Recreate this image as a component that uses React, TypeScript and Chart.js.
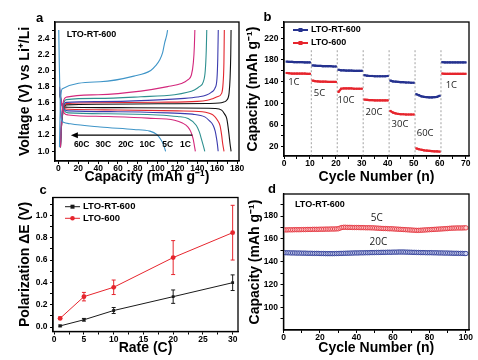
import React, { useEffect, useRef } from "react";
import { Chart, registerables } from "chart.js";
Chart.register(...registerables);

const FONT = '"Liberation Sans", Arial, Helvetica, sans-serif';
const LFONT = '"Open Sans", "Liberation Sans", sans-serif';

// ---------------- Panel a: charge / discharge profiles ----------------
const chg1C_cap = [2, 3, 5, 8, 40, 100, 150, 162, 166, 169, 171, 172, 173, 173.7, 174];
const chg1C_v = [1.05, 1.3, 1.52, 1.575, 1.582, 1.588, 1.592, 1.597, 1.607, 1.625, 1.66, 1.72, 1.9, 2.2, 2.5];
const dis1C_cap = [1, 3, 6, 10, 60, 120, 158, 164.5, 167.5, 169.6, 171, 172, 173, 174];
const dis1C_v = [1.72, 1.6, 1.55, 1.545, 1.54, 1.535, 1.53, 1.51, 1.46, 1.406, 1.3, 1.2, 1.09, 1.0];

const chg5C_cap = [2, 3, 5, 8, 40, 100, 140, 150, 154.3, 160, 164.5, 166, 166.8, 167.2];
const chg5C_v = [1.05, 1.3, 1.52, 1.59, 1.6, 1.607, 1.618, 1.632, 1.646, 1.675, 1.717, 1.85, 2.1, 2.5];
const dis5C_cap = [1, 3, 6, 10, 60, 120, 145, 152, 156, 160, 162.8, 164.5, 165.5, 166.9];
const dis5C_v = [1.74, 1.6, 1.53, 1.52, 1.512, 1.5, 1.49, 1.47, 1.447, 1.39, 1.32, 1.2, 1.1, 1.0];

const chg10C_cap = [2, 3, 5, 8, 40, 90, 127, 140, 149.2, 154, 157.7, 159.8, 160.6, 161.1];
const chg10C_v = [1.05, 1.32, 1.55, 1.605, 1.615, 1.63, 1.655, 1.672, 1.696, 1.73, 1.779, 1.9, 2.15, 2.5];
const dis10C_cap = [1, 3, 6, 10, 60, 110, 135, 147.5, 152, 156, 158, 159.4, 160.3, 161];
const dis10C_v = [1.76, 1.6, 1.52, 1.5, 1.49, 1.475, 1.46, 1.426, 1.38, 1.32, 1.25, 1.157, 1.08, 1.0];

const chg20C_cap = [2, 3, 5, 8, 40, 83, 117, 130, 137, 142, 146, 148, 149, 149.5];
const chg20C_v = [1.05, 1.35, 1.58, 1.64, 1.655, 1.675, 1.7, 1.73, 1.76, 1.8, 1.86, 2.0, 2.25, 2.5];
const dis20C_cap = [1, 3, 6, 10, 50, 100, 120, 130.6, 139, 142, 144, 146, 147.5];
const dis20C_v = [1.78, 1.6, 1.5, 1.475, 1.465, 1.45, 1.43, 1.406, 1.32, 1.24, 1.157, 1.07, 1.0];

const chg30C_cap = [2, 3, 5, 8, 40, 83, 110, 124, 130, 134, 136, 137, 137.5];
const chg30C_v = [1.05, 1.4, 1.62, 1.67, 1.7, 1.745, 1.8, 1.84, 1.88, 1.944, 2.1, 2.3, 2.5];
const dis30C_cap = [1, 3, 6, 10, 50, 90, 117, 125, 130.6, 133.5, 135.7, 137, 138];
const dis30C_v = [1.8, 1.6, 1.47, 1.45, 1.43, 1.41, 1.385, 1.35, 1.3, 1.24, 1.157, 1.07, 1.0];

const chg60C_cap = [1, 1.5, 2.5, 4, 42, 76, 93, 98, 102, 105, 107, 109, 110];
const chg60C_v = [1.05, 1.4, 1.7, 1.775, 1.86, 1.93, 2.0, 2.06, 2.13, 2.22, 2.34, 2.43, 2.5];
const dis60C_cap = [0.3, 0.8, 1.5, 2.5, 5, 12, 42, 76, 92, 99, 103, 106, 108];
const dis60C_v = [2.5, 2.1, 1.7, 1.42, 1.36, 1.34, 1.3, 1.27, 1.25, 1.21, 1.15, 1.08, 1.0];

const aRateNames = ["60C", "30C", "20C", "10C", "5C", "1C"];
const aRateColors = ["#3f95c8", "#d3287c", "#2e9090", "#3c3cae", "#e3262e", "#111111"];
const aRateLabelX = [23.4, 45.2, 68, 89.5, 110, 128];
const aRateLabelV = 1.086;
const aArrow = { from: 135, to: 12.5, v: 1.2 };
const aXMajor = [0, 20, 40, 60, 80, 100, 120, 140, 160, 180];
const aXMinor = [10, 30, 50, 70, 90, 110, 130, 150, 170];
const aYMajor = [1.0, 1.2, 1.4, 1.6, 1.8, 2.0, 2.2, 2.4];
const aYMinor = [1.1, 1.3, 1.5, 1.7, 1.9, 2.1, 2.3, 2.5];

// ---------------- Panel b: rate capability ----------------
const bRT = [
  177, 176.5, 176.5, 176, 176, 176, 176, 175.5, 175.5, 175.5,
  170, 169.5, 169, 169, 168.5, 168.5, 168.5, 168.5, 168, 168,
  162, 161, 161, 160.5, 160.5, 160.5, 160, 160, 160, 160,
  152, 151, 150.5, 150.5, 150, 150, 150, 150, 150, 150.5,
  142, 140.5, 140, 139.5, 139, 139, 138.5, 138.5, 138, 138,
  117, 115, 113, 112, 111.5, 111, 111, 111.5, 112, 114,
  176, 175.5, 175.5, 175.5, 175.5, 175.5, 175.5, 175.5, 175.5, 175.5,
];
const b600 = [
  156, 155.5, 155, 155, 155, 155, 155, 155, 154.5, 154.5,
  142, 141, 140.5, 140, 140, 140, 139.5, 139.5, 139.5, 139.5,
  121, 127, 127.5, 127.5, 127.5, 127.5, 127, 127, 127, 127,
  107, 106.5, 106, 106, 105.5, 105.5, 105.5, 105.5, 105.5, 105.5,
  86, 83, 81.5, 80.5, 80, 80, 79.5, 79.5, 79.5, 79.5,
  17, 15.5, 14.5, 13.5, 13, 12.5, 12, 11.5, 11.5, 11,
  155, 154.5, 154.5, 154.5, 154.5, 154.5, 154.5, 154.5, 154.5, 154.5,
];
const bSwitch = [10.5, 20.5, 30.5, 40.5, 50.5, 60.5];
const bRateNames = ["1C", "5C", "10C", "20C", "30C", "60C", "1C"];
const bLabelX = [3.8, 13.7, 23.9, 34.7, 44.7, 54.4, 64.5];
const bLabelY = [138, 118.5, 106, 82.7, 61, 44, 133];
const bXMajor = [0, 10, 20, 30, 40, 50, 60, 70];
const bXMinor = [5, 15, 25, 35, 45, 55, 65];
const bYMajor = [20, 60, 100, 140, 180, 220];
const bYMinor = [40, 80, 120, 160, 200, 240];

// ---------------- Panel c: polarization ----------------
const cRate = [1, 5, 10, 20, 30];
const cRT = [0.01, 0.065, 0.148, 0.272, 0.397];
const cRTerr = [0.008, 0.012, 0.027, 0.06, 0.07];
const c600 = [0.078, 0.272, 0.356, 0.622, 0.845];
const c600err = [0.012, 0.038, 0.065, 0.152, 0.245];
const cXMajor = [0, 5, 10, 15, 20, 25, 30];
const cXMinor = [2.5, 7.5, 12.5, 17.5, 22.5, 27.5];
const cYMajor = [0, 0.2, 0.4, 0.6, 0.8, 1.0];
const cYMinor = [0.1, 0.3, 0.5, 0.7, 0.9, 1.1];

// ---------------- Panel d: cycling ----------------
const d5C = [
  167.8, 167.8, 167.9, 167.9, 167.9, 168.0, 168.0, 168.0, 168.0, 168.1,
  168.1, 168.1, 168.2, 168.2, 168.2, 168.3, 168.3, 168.3, 168.3, 168.4,
  168.4, 168.4, 168.5, 168.5, 168.5, 168.6, 168.6, 168.6, 168.7, 168.8,
  169.4, 169.9, 170.1, 170.1, 170.0, 170.0, 170.0, 169.9, 169.9, 169.9,
  169.9, 169.8, 169.8, 169.8, 169.7, 169.7, 169.7, 169.6, 169.6, 169.5,
  169.4, 169.3, 169.2, 169.1, 169.0, 169.0, 168.9, 168.8, 168.8, 168.7,
  168.6, 168.5, 168.4, 168.3, 168.2, 168.1, 168.0, 167.9, 167.8, 167.7,
  167.6, 167.5, 167.4, 167.4, 167.5, 167.6, 167.7, 167.8, 167.9, 168.0,
  168.1, 168.2, 168.3, 168.4, 168.5, 168.6, 168.7, 168.8, 168.9, 169.0,
  169.2, 169.3, 169.4, 169.4, 169.5, 169.5, 169.5, 169.5, 169.6, 169.6,
];
const d20C = [
  147.8, 147.7, 147.7, 147.6, 147.6, 147.6, 147.5, 147.5, 147.5, 147.4,
  147.4, 147.4, 147.3, 147.3, 147.3, 147.2, 147.2, 147.2, 147.2, 147.1,
  147.1, 147.1, 147.0, 147.0, 147.0, 147.0, 147.0, 147.0, 147.1, 147.1,
  147.2, 147.2, 147.3, 147.3, 147.4, 147.4, 147.5, 147.5, 147.6, 147.6,
  147.6, 147.7, 147.7, 147.7, 147.8, 147.8, 147.8, 147.9, 147.9, 147.9,
  148.0, 148.0, 148.0, 148.1, 148.1, 148.1, 148.2, 148.2, 148.2, 148.3,
  148.3, 148.3, 148.4, 148.4, 148.4, 148.4, 148.3, 148.3, 148.2, 148.2,
  148.1, 148.1, 148.0, 148.0, 147.9, 147.9, 147.9, 147.8, 147.8, 147.8,
  147.8, 147.7, 147.7, 147.7, 147.6, 147.6, 147.6, 147.5, 147.5, 147.5,
  147.4, 147.4, 147.3, 147.3, 147.3, 147.2, 147.2, 147.2, 147.1, 147.1,
];
const dXMajor = [0, 20, 40, 60, 80, 100];
const dXMinor = [10, 30, 50, 70, 90];
const dYMajor = [100, 120, 140, 160, 180];
const dYMinor = [90, 110, 130, 150, 170, 190];

// ---------------- helpers ----------------
const zip = (xs: number[], ys: (number | null)[]) => xs.map((x, i) => ({ x, y: ys[i] }));
const BLUE = "#25328f";
const RED = "#e6252d";

function axis(o: {
  pos: "bottom" | "left"; min: number; max: number; major: number[]; minor: number[];
  fmt: (v: number) => string; title: string; size: number; titlePad: number;
}) {
  const all = [...o.major, ...o.minor].sort((a, b) => a - b);
  const horiz = o.pos === "bottom";
  return {
    type: "linear",
    position: o.pos,
    min: o.min,
    max: o.max,
    afterBuildTicks: (s: any) => { s.ticks = all.map((v) => ({ value: v })); },
    afterFit: (s: any) => { if (horiz) s.height = o.size; else s.width = o.size; },
    ticks: {
      autoSkip: false, maxRotation: 0, minRotation: 0,
      padding: horiz ? 0 : 2.5,
      color: "#000",
      font: { family: FONT, size: 8.5, weight: "bold" },
      callback: (v: number) => {
        const m = o.major.find((t) => Math.abs(t - v) < 1e-6);
        return m === undefined ? "" : o.fmt(m);
      },
    },
    grid: { display: true, drawOnChartArea: false, drawTicks: true, tickLength: 3, tickColor: "#000", tickWidth: 1 },
    border: { display: true, color: "#000", width: 1.3 },
    title: {
      display: true, text: o.title, color: "#000",
      font: { family: FONT, size: 14, weight: "bold" },
      padding: horiz ? { top: 0, bottom: o.titlePad } : { top: o.titlePad, bottom: 0 },
    },
  };
}

const framePlugin = {
  id: "frame",
  afterDatasetsDraw(chart: any) {
    const { ctx, chartArea: a } = chart;
    ctx.save();
    ctx.strokeStyle = "#000";
    ctx.lineWidth = 1.3;
    ctx.strokeRect(a.left, a.top, a.right - a.left, a.bottom - a.top);
    ctx.restore();
  },
};

function text(ctx: any, s: string, x: number, y: number, size: number, opts: any = {}) {
  ctx.save();
  ctx.fillStyle = opts.color || "#000";
  ctx.font = `${opts.weight || "bold"} ${size}px ${opts.family || FONT}`;
  ctx.textAlign = opts.align || "center";
  ctx.textBaseline = "middle";
  ctx.fillText(s, x, y);
  ctx.restore();
}

function legendRow(ctx: any, x0: number, y: number, color: string, marker: string, label: string, size: number, lw: number) {
  ctx.save();
  ctx.strokeStyle = color;
  ctx.fillStyle = color;
  ctx.lineWidth = lw;
  ctx.beginPath();
  ctx.moveTo(x0, y);
  ctx.lineTo(x0 + 15, y);
  ctx.stroke();
  if (marker === "rect") ctx.fillRect(x0 + 7.5 - 2, y - 2, 4, 4);
  else { ctx.beginPath(); ctx.arc(x0 + 7.5, y, 2.3, 0, Math.PI * 2); ctx.fill(); }
  ctx.restore();
  text(ctx, label, x0 + 18, y, size, { align: "left" });
}

const baseOpts = (padding: any) => ({
  responsive: false,
  animation: false,
  events: [],
  devicePixelRatio: 1,
  layout: { padding },
  plugins: { legend: { display: false }, tooltip: { enabled: false } },
});

// ---------------- chart configs ----------------
function configA() {
  const curves = [
    [chg60C_cap, chg60C_v, dis60C_cap, dis60C_v],
    [chg30C_cap, chg30C_v, dis30C_cap, dis30C_v],
    [chg20C_cap, chg20C_v, dis20C_cap, dis20C_v],
    [chg10C_cap, chg10C_v, dis10C_cap, dis10C_v],
    [chg5C_cap, chg5C_v, dis5C_cap, dis5C_v],
    [chg1C_cap, chg1C_v, dis1C_cap, dis1C_v],
  ];
  const datasets: any[] = [];
  curves.forEach((c, i) => {
    const common = { borderColor: aRateColors[i], borderWidth: 1.1, pointRadius: 0, fill: false, cubicInterpolationMode: "monotone" };
    datasets.push({ ...common, data: zip(c[0], c[1]) });
    datasets.push({ ...common, data: zip(c[2], c[3]) });
  });
  return {
    type: "line",
    data: { datasets },
    options: {
      ...baseOpts({ left: 0, top: 22, right: 6, bottom: 0 }),
      scales: {
        x: axis({ pos: "bottom", min: -3.5, max: 182, major: aXMajor, minor: aXMinor, fmt: (v) => String(v), title: "Capacity (mAh g⁻¹)", size: 25, titlePad: 0 }),
        y: axis({ pos: "left", min: 0.88, max: 2.6, major: aYMajor, minor: aYMinor, fmt: (v) => v.toFixed(1), title: "Voltage (V) vs Li⁺/Li", size: 55, titlePad: 17 }),
      },
    },
    plugins: [framePlugin, {
      id: "annA",
      afterDraw(chart: any) {
        const { ctx, scales: { x, y } } = chart;
        text(ctx, "LTO-RT-600", x.getPixelForValue(8.3), y.getPixelForValue(2.44), 9, { align: "left" });
        const ay = y.getPixelForValue(aArrow.v);
        const x1 = x.getPixelForValue(aArrow.from), x2 = x.getPixelForValue(aArrow.to);
        ctx.save();
        ctx.strokeStyle = "#000"; ctx.fillStyle = "#000"; ctx.lineWidth = 1.1;
        ctx.beginPath(); ctx.moveTo(x1, ay); ctx.lineTo(x2 + 4, ay); ctx.stroke();
        ctx.beginPath(); ctx.moveTo(x2, ay); ctx.lineTo(x2 + 7, ay - 3); ctx.lineTo(x2 + 7, ay + 3); ctx.closePath(); ctx.fill();
        ctx.restore();
        aRateNames.forEach((n, i) => text(ctx, n, x.getPixelForValue(aRateLabelX[i]), y.getPixelForValue(aRateLabelV), 8.5));
        text(ctx, "a", 39.5, 18, 13);
      },
    }],
  };
}

function segData(vals: number[]) {
  const out: any[] = [];
  vals.forEach((v, i) => {
    out.push({ x: i + 1, y: v });
    if ((i + 1) % 10 === 0 && i < vals.length - 1) out.push({ x: i + 1.5, y: null });
  });
  return out;
}

function configB() {
  const ds = (vals: number[], color: string) => ({
    data: segData(vals), borderColor: color, backgroundColor: color, borderWidth: 2.2,
    pointRadius: 1.5, pointStyle: "rect", pointBorderWidth: 0, fill: false, spanGaps: false,
  });
  return {
    type: "line",
    data: { datasets: [ds(b600, RED), ds(bRT, BLUE)] },
    options: {
      ...baseOpts({ left: 0, top: 22, right: 9, bottom: 0 }),
      scales: {
        x: axis({ pos: "bottom", min: 0, max: 71.3, major: bXMajor, minor: bXMinor, fmt: (v) => String(v), title: "Cycle Number (n)", size: 30, titlePad: 0 }),
        y: axis({ pos: "left", min: 3, max: 250, major: bYMajor, minor: bYMinor, fmt: (v) => String(v), title: "Capacity (mAh g⁻¹)", size: 39, titlePad: 0 }),
      },
    },
    plugins: [{
      id: "dashB",
      beforeDatasetsDraw(chart: any) {
        const { ctx, scales: { x, y }, chartArea: a } = chart;
        ctx.save();
        ctx.strokeStyle = "#8a8a8a"; ctx.lineWidth = 0.8; ctx.setLineDash([2, 2]);
        bSwitch.forEach((s) => {
          const px = x.getPixelForValue(s);
          ctx.beginPath(); ctx.moveTo(px, y.getPixelForValue(198)); ctx.lineTo(px, a.bottom); ctx.stroke();
        });
        ctx.restore();
      },
    }, framePlugin, {
      id: "annB",
      afterDraw(chart: any) {
        const { ctx, scales: { x, y }, chartArea: a } = chart;
        bRateNames.forEach((n, i) => text(ctx, n, x.getPixelForValue(bLabelX[i]), y.getPixelForValue(bLabelY[i]), 9.5, { weight: "normal", family: LFONT, color: "#222" }));
        legendRow(ctx, a.left + 9, a.top + 8, BLUE, "rect", "LTO-RT-600", 9, 2);
        legendRow(ctx, a.left + 9, a.top + 21, RED, "rect", "LTO-600", 9, 2);
        text(ctx, "b", 22.5, 17, 13);
      },
    }],
  };
}

function configC() {
  return {
    type: "line",
    data: {
      datasets: [
        { data: zip(cRate, c600), borderColor: RED, backgroundColor: RED, borderWidth: 1, pointRadius: 2.4, pointStyle: "circle", pointBorderWidth: 0, fill: false },
        { data: zip(cRate, cRT), borderColor: "#1a1a1a", backgroundColor: "#1a1a1a", borderWidth: 1, pointRadius: 2, pointStyle: "rect", pointBorderWidth: 0, fill: false },
      ],
    },
    options: {
      ...baseOpts({ left: 0, top: 17.5, right: 7, bottom: 0 }),
      scales: {
        x: axis({ pos: "bottom", min: -0.2, max: 30.9, major: cXMajor, minor: cXMinor, fmt: (v) => String(v), title: "Rate (C)", size: 28.5, titlePad: 3.6 }),
        y: axis({ pos: "left", min: -0.04, max: 1.16, major: cYMajor, minor: cYMinor, fmt: (v) => v.toFixed(1), title: "Polarization ΔE (V)", size: 53, titlePad: 17 }),
      },
    },
    plugins: [{
      id: "errC",
      beforeDatasetsDraw(chart: any) {
        const { ctx, scales: { x, y } } = chart;
        const bars = (vals: number[], errs: number[], color: string) => {
          ctx.save();
          ctx.strokeStyle = color; ctx.lineWidth = 1;
          vals.forEach((v, i) => {
            const px = x.getPixelForValue(cRate[i]);
            const t = y.getPixelForValue(v + errs[i]);
            const b = y.getPixelForValue(v - errs[i]);
            ctx.beginPath();
            ctx.moveTo(px, t); ctx.lineTo(px, b);
            ctx.moveTo(px - 2, t); ctx.lineTo(px + 2, t);
            ctx.moveTo(px - 2, b); ctx.lineTo(px + 2, b);
            ctx.stroke();
          });
          ctx.restore();
        };
        bars(c600, c600err, RED);
        bars(cRT, cRTerr, "#1a1a1a");
      },
    }, framePlugin, {
      id: "annC",
      afterDraw(chart: any) {
        const { ctx, chartArea: a } = chart;
        legendRow(ctx, a.left + 12, a.top + 9.2, "#1a1a1a", "rect", "LTO-RT-600", 9.5, 1);
        legendRow(ctx, a.left + 12, a.top + 20.8, RED, "circle", "LTO-600", 9.5, 1);
        text(ctx, "c", 43, 10, 13);
      },
    }],
  };
}

function configD() {
  const cycles = d5C.map((_, i) => i + 1);
  const ds = (vals: number[], color: string, fillC: string) => ({
    data: zip(cycles, vals), showLine: false, borderColor: color, backgroundColor: fillC,
    pointRadius: 2.2, pointStyle: "circle", pointBorderWidth: 0.9, pointBorderColor: color, pointBackgroundColor: fillC,
  });
  return {
    type: "line",
    data: { datasets: [ds(d5C, "#e2303a", "rgba(255,215,215,0.9)"), ds(d20C, "#2d3a95", "rgba(215,220,245,0.9)")] },
    options: {
      ...baseOpts({ left: 0, top: 14, right: 9, bottom: 0 }),
      scales: {
        x: axis({ pos: "bottom", min: 0, max: 101.7, major: dXMajor, minor: dXMinor, fmt: (v) => String(v), title: "Cycle Number (n)", size: 30, titlePad: 3.6 }),
        y: axis({ pos: "left", min: 80, max: 199.3, major: dYMajor, minor: dYMinor, fmt: (v) => String(v), title: "Capacity (mAh g⁻¹)", size: 38.5, titlePad: 1.6 }),
      },
    },
    plugins: [framePlugin, {
      id: "annD",
      afterDraw(chart: any) {
        const { ctx, scales: { x, y } } = chart;
        text(ctx, "LTO-RT-600", x.getPixelForValue(6.3), y.getPixelForValue(190.3), 9, { align: "left" });
        text(ctx, "5C", x.getPixelForValue(51.1), y.getPixelForValue(178), 10, { weight: "normal", family: LFONT, color: "#222" });
        text(ctx, "20C", x.getPixelForValue(52), y.getPixelForValue(156.9), 10, { weight: "normal", family: LFONT, color: "#222" });
        text(ctx, "d", 27, 9.5, 13);
      },
    }],
  };
}

function ChartPanel(props: { left: number; top: number; width: number; height: number; make: () => any }) {
  const ref = useRef<HTMLCanvasElement>(null);
  useEffect(() => {
    const chart = new Chart(ref.current as HTMLCanvasElement, props.make());
    return () => chart.destroy();
  }, []);
  return (
    <canvas
      ref={ref}
      width={props.width}
      height={props.height}
      style={{ position: "absolute", left: props.left, top: props.top, width: props.width, height: props.height }}
    />
  );
}

export default function App() {
  return (
    <div style={{ position: "absolute", left: 0, top: 0, width: 478, height: 360, background: "#fff", overflow: "hidden" }}>
      <ChartPanel left={0} top={0} width={245} height={186} make={configA} />
      <ChartPanel left={245} top={0} width={233} height={186} make={configB} />
      <ChartPanel left={0} top={180} width={245} height={180} make={configC} />
      <ChartPanel left={245} top={180} width={233} height={180} make={configD} />
    </div>
  );
}
